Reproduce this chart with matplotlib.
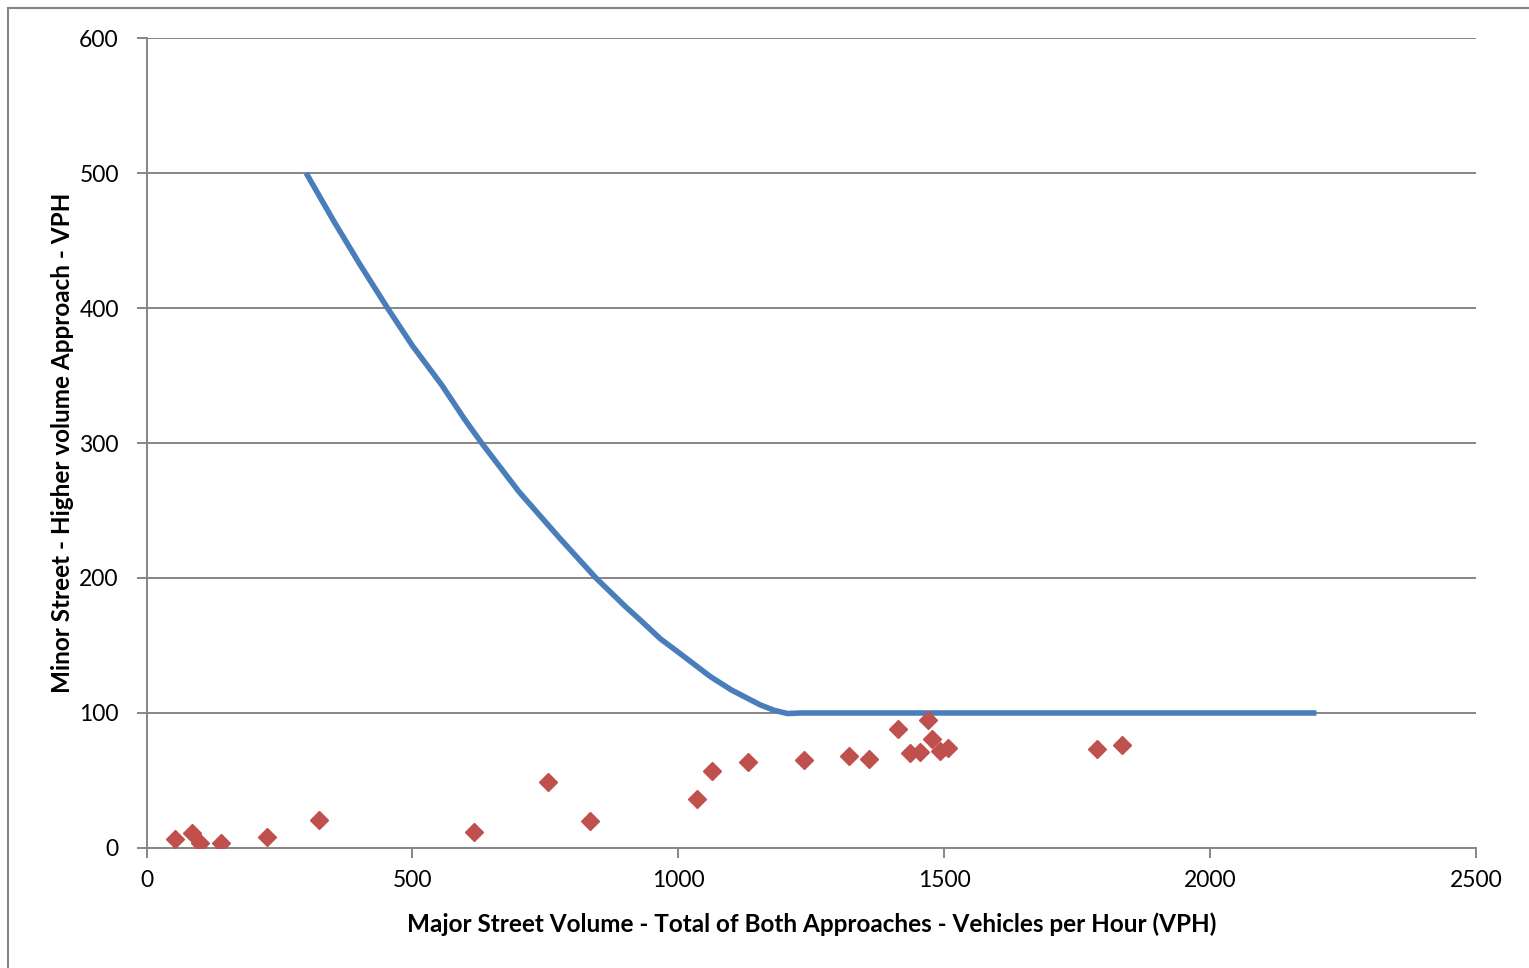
import matplotlib.pyplot as plt
from matplotlib.patches import Rectangle

# warrant curve
curveX = [300, 351, 400, 453, 500, 555, 599, 630, 700, 778, 845, 900, 928, 966, 1000, 1060, 1100, 1154, 1180,
          1205, 1230, 1300, 2200]
curveY = [500, 465, 433, 400, 372, 343, 317, 300, 264, 229, 200, 179, 169, 155, 145, 127, 117, 106, 102,
          99.6, 100, 100, 100]

# observed counts
majorVol = [53, 85, 100, 140, 226, 325, 615, 755, 833, 1035, 1063, 1131, 1237, 1320, 1359, 1414, 1435, 1454,
            1469, 1477, 1492, 1507, 1788, 1835]
minorVol = [7, 11, 4, 4, 8, 21, 12, 49, 20, 36, 57, 64, 65, 68, 66, 88, 70, 71,
            95, 81, 72, 74, 73, 76]

plt.rcParams['font.family'] = ['Lato', 'DejaVu Sans']

fig = plt.figure(figsize=(15.29, 9.68), dpi=100)
fig.patches.append(Rectangle((8 / 1529, -0.1), 1.2, 1.1 - 8 / 968, transform=fig.transFigure,
                             fill=False, edgecolor='#868686', linewidth=1.5))
ax = fig.add_axes([0.0959, 0.124, 0.8694, 0.8367])

ax.plot(curveX, curveY, color='#4A7EBB', linewidth=4, solid_capstyle='butt', solid_joinstyle='round', zorder=3)
ax.plot(majorVol, minorVol, linestyle='none', marker='D', markersize=9, color='#C0504D', zorder=4)

ax.set_xlim(0, 2500)
ax.set_ylim(0, 600)
ax.set_xticks([0, 500, 1000, 1500, 2000, 2500])
ax.set_yticks([0, 100, 200, 300, 400, 500, 600])
ax.yaxis.grid(True, color='#868686', linewidth=1.4)
ax.set_axisbelow(True)

for s in ['top', 'right']:
    ax.spines[s].set_visible(False)
for s in ['left', 'bottom']:
    ax.spines[s].set_color('#868686')
    ax.spines[s].set_linewidth(1.4)

ax.tick_params(axis='both', colors='#868686', length=7, width=1.4, labelsize=16.5, labelcolor='black')
ax.tick_params(axis='y', pad=13)
ax.tick_params(axis='x', pad=9)

ax.set_xlabel("Major Street Volume - Total of Both Approaches - Vehicles per Hour (VPH)",
              fontsize=17.5, fontweight='bold', labelpad=15)
ax.set_ylabel("Minor Street - Higher volume Approach - VPH", fontsize=17.5, fontweight='bold', labelpad=4)

fig.savefig("out.png", dpi=100)
